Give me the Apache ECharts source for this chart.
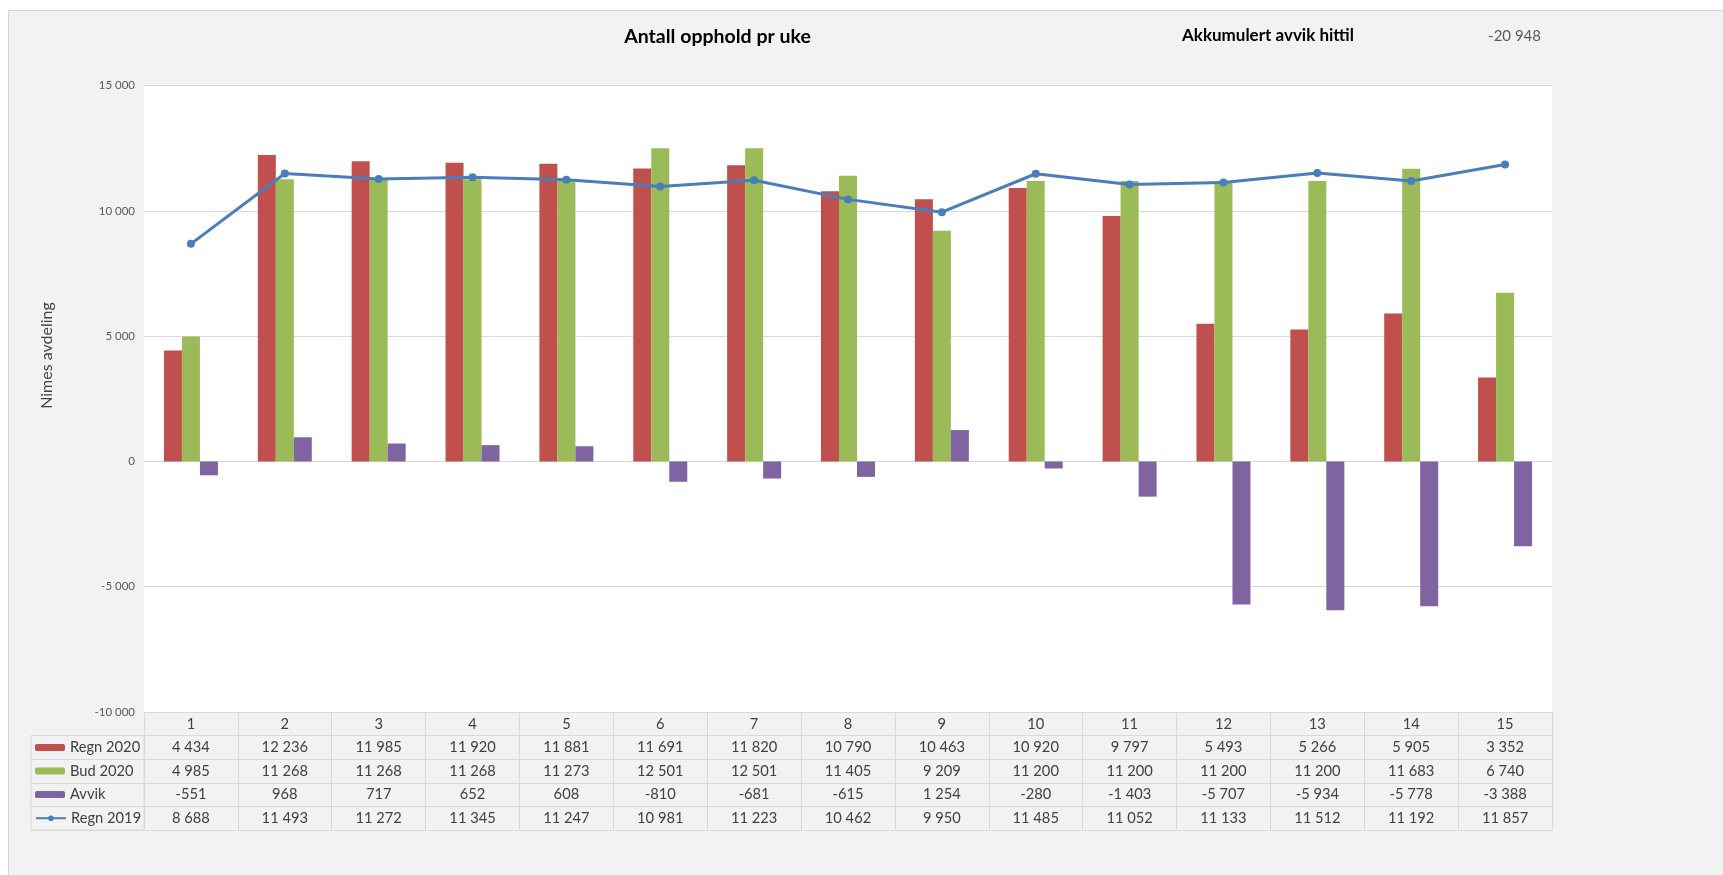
<!DOCTYPE html>
<html>
<head>
<meta charset="utf-8">
<script src="https://cdn.jsdelivr.net/npm/echarts@6/dist/echarts.min.js"></script>
<style>
  html, body { margin:0; padding:0; background:#ffffff; }
  #panel { position:absolute; left:8px; top:10px; right:0; bottom:0; background:#f2f2f2; border-top:1px solid #d6d6d6; border-left:1px solid #d6d6d6; }
  #chart { position:absolute; left:0; top:0; width:1723px; height:875px; }
</style>
</head>
<body>
<div id="panel"></div>
<div id="chart"></div>
<script>
const weeks = ['1','2','3','4','5','6','7','8','9','10','11','12','13','14','15'];
const regn2020 = [4434, 12236, 11985, 11920, 11881, 11691, 11820, 10790, 10463, 10920, 9797, 5493, 5266, 5905, 3352];
const bud2020  = [4985, 11268, 11268, 11268, 11273, 12501, 12501, 11405, 9209, 11200, 11200, 11200, 11200, 11683, 6740];
const avvik    = [-551, 968, 717, 652, 608, -810, -681, -615, 1254, -280, -1403, -5707, -5934, -5778, -3388];
const regn2019 = [8688, 11493, 11272, 11345, 11247, 10981, 11223, 10462, 9950, 11485, 11052, 11133, 11512, 11192, 11857];
const seriesNames = ['Regn 2020', 'Bud 2020', 'Avvik', 'Regn 2019'];
const titleText = 'Antall opphold pr uke';
const accLabel = 'Akkumulert avvik hittil';
const accValue = -20948;
const yName = 'Nimes avdeling';

const FONT = 'Lato, "Open Sans", sans-serif';
const GRID_LINE = '#d9d9d9';
const TXT = '#404040';
const ROW = 23.6;
const TABLE_TOP = 712;
const TABLE_FS = 14.7;
const colors = ['#c0504d', '#9bbb59', '#8064a2', '#4a7ebb'];

function fmt(v) {
  const s = Math.abs(v).toString().replace(/\B(?=(\d{3})+(?!\d))/g, ' ');
  return (v < 0 ? '-' : '') + s;
}

const tableRows = [weeks, regn2020.map(fmt), bud2020.map(fmt), avvik.map(fmt), regn2019.map(fmt)];

const tableAxes = tableRows.map((rowData, k) => ({
  gridIndex: 0,
  type: 'category',
  position: 'bottom',
  offset: ROW * k,
  data: rowData,
  axisLine: { show: true, onZero: false, lineStyle: { color: GRID_LINE, width: 1 } },
  axisTick: { show: true, interval: 0, length: ROW, lineStyle: { color: GRID_LINE, width: 1 } },
  axisLabel: { show: true, interval: 0, margin: ROW / 2, verticalAlign: 'middle', color: TXT, fontSize: TABLE_FS, fontFamily: FONT },
  splitLine: { show: false }
}));
tableAxes.push({
  gridIndex: 0, type: 'category', position: 'bottom', offset: ROW * 5, data: weeks,
  axisLine: { show: true, onZero: false, lineStyle: { color: GRID_LINE, width: 1 } },
  axisTick: { show: false }, axisLabel: { show: false }, splitLine: { show: false }
});
tableAxes.push({ gridIndex: 1, type: 'value', show: false });

const legends = seriesNames.map((name, i) => ({
  data: [name],
  orient: 'vertical',
  left: 35,
  top: TABLE_TOP + ROW * (i + 1) + ROW / 2 - 9,
  padding: 0,
  itemWidth: 30,
  itemHeight: 7,
  itemGap: 6,
  textStyle: { color: TXT, fontSize: TABLE_FS, fontFamily: FONT, lineHeight: 18 },
  selectedMode: false
}));

const chart = echarts.init(document.getElementById('chart'), null, { renderer: 'canvas' });
chart.setOption({
  animation: false,
  backgroundColor: 'transparent',
  color: colors,
  textStyle: { fontFamily: FONT },
  legend: legends,
  grid: [
    { left: 144, right: 171, top: 85.7, bottom: 875 - TABLE_TOP, show: true, backgroundColor: '#ffffff', borderWidth: 0 },
    { left: 31, width: 113, top: TABLE_TOP + ROW, height: ROW * 4, show: true, backgroundColor: 'transparent', borderColor: GRID_LINE, borderWidth: 1 }
  ],
  xAxis: tableAxes,
  yAxis: [
    {
      gridIndex: 0, type: 'value', min: -10000, max: 15000, interval: 5000,
      axisLine: { show: false }, axisTick: { show: false },
      axisLabel: { formatter: fmt, color: '#595959', fontSize: 11.5, fontFamily: FONT, margin: 9 },
      splitLine: { show: true, lineStyle: { color: GRID_LINE, width: 1 } }
    },
    {
      gridIndex: 1, type: 'category', data: ['a', 'b', 'c', 'd'], inverse: true,
      axisLine: { show: false }, axisTick: { show: false }, axisLabel: { show: false },
      splitLine: { show: true, interval: 0, lineStyle: { color: GRID_LINE, width: 1 } }
    }
  ],
  graphic: [
    { type: 'text', x: 717.5, y: 36.5, style: { text: titleText, fill: '#000', font: 'bold 19.5px ' + FONT, textAlign: 'center', textVerticalAlign: 'middle' } },
    { type: 'text', x: 1182, y: 36, style: { text: accLabel, fill: '#000', font: 'bold 17px ' + FONT, textAlign: 'left', textVerticalAlign: 'middle' } },
    { type: 'text', x: 1541, y: 36, style: { text: fmt(accValue), fill: '#595959', font: '15px ' + FONT, textAlign: 'right', textVerticalAlign: 'middle' } },
    { type: 'text', x: 47, y: 355.5, rotation: Math.PI / 2, style: { text: yName, fill: '#404040', font: '16px ' + FONT, textAlign: 'center', textVerticalAlign: 'middle' } }
  ],
  series: [
    { name: seriesNames[0], type: 'bar', xAxisIndex: 0, yAxisIndex: 0, data: regn2020, barWidth: 18, barGap: '0%', itemStyle: { color: colors[0] } },
    { name: seriesNames[1], type: 'bar', xAxisIndex: 0, yAxisIndex: 0, data: bud2020, barWidth: 18, barGap: '0%', itemStyle: { color: colors[1] } },
    { name: seriesNames[2], type: 'bar', xAxisIndex: 0, yAxisIndex: 0, data: avvik, barWidth: 18, barGap: '0%', itemStyle: { color: colors[2] } },
    { name: seriesNames[3], type: 'line', xAxisIndex: 0, yAxisIndex: 0, data: regn2019, symbol: 'circle', symbolSize: 8, lineStyle: { width: 3, color: colors[3] }, itemStyle: { color: colors[3] }, z: 5 }
  ]
});
</script>
</body>
</html>
